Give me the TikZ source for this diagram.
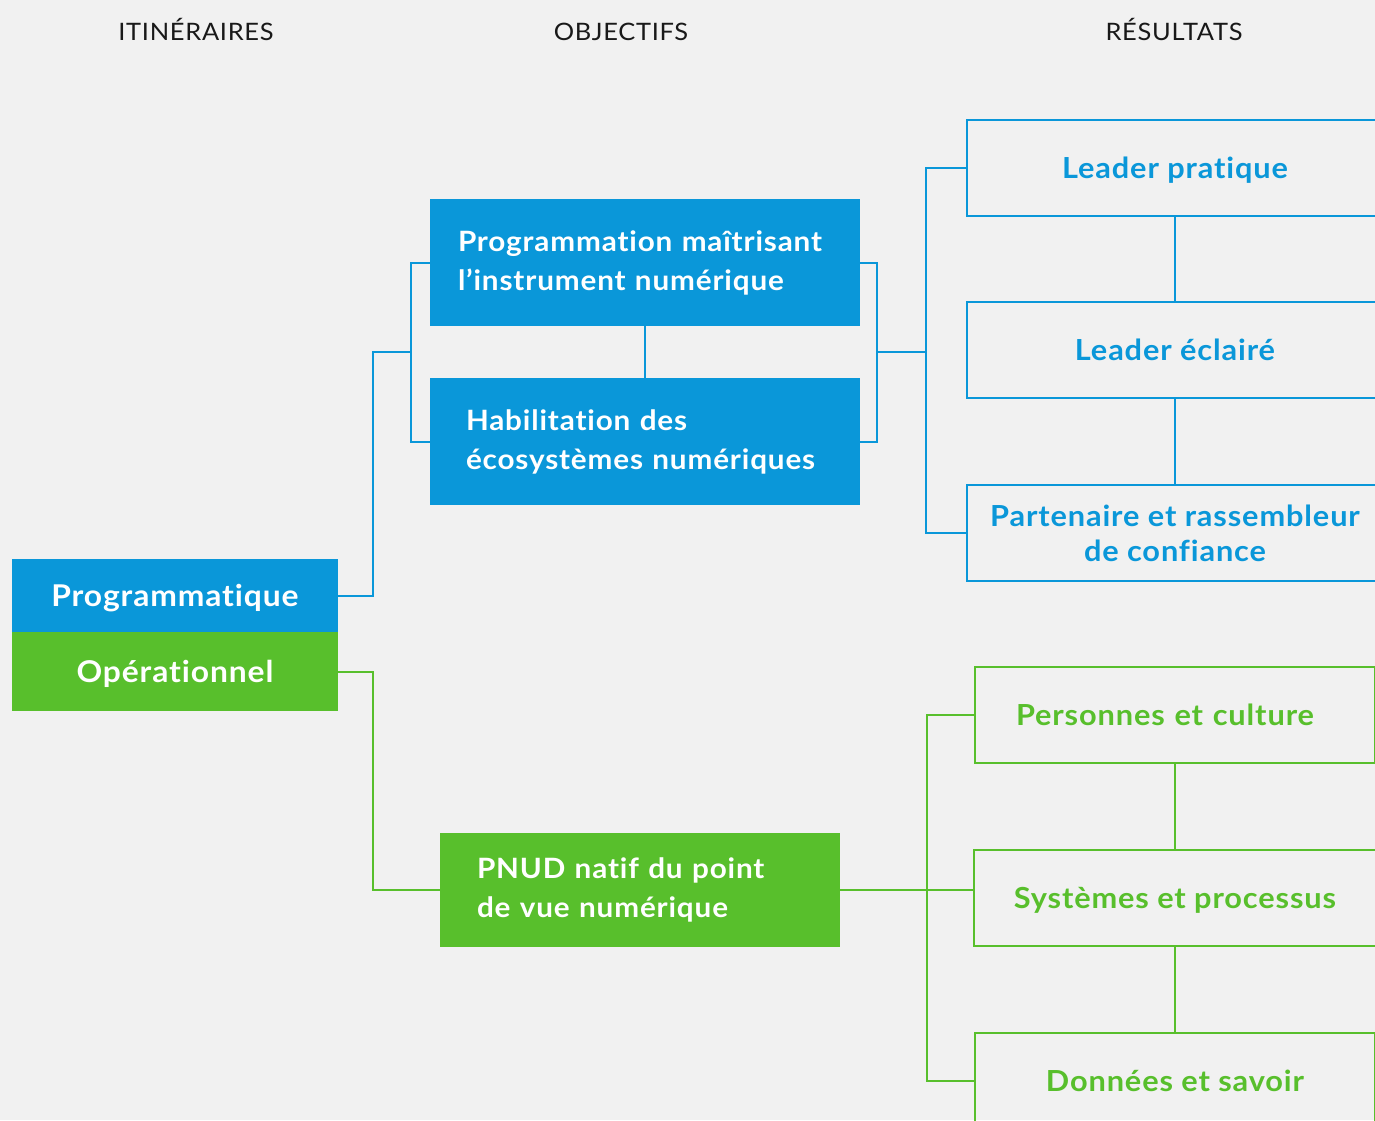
\documentclass[tikz,border=0pt]{standalone}
\usepackage{fontspec}
\setmainfont{Lato}[Ligatures=NoCommon]
\newfontfamily\boxfont{Lato}[Ligatures=NoCommon, LetterSpace=3, FakeStretch=1.06]
\usetikzlibrary{positioning,calc}
\definecolor{undpblue}{HTML}{0A97D9}
\definecolor{undpgreen}{HTML}{58BF2C}
\definecolor{paper}{HTML}{F1F1F1}
\tikzstyle{head} = [anchor=base, font=\boxfont\fontsize{24}{28}\selectfont, text=black!90]
\tikzstyle{block} = [rectangle, outer sep=0pt, align=center, text depth=0pt, font=\boxfont\bfseries\fontsize{28}{39}\selectfont]
\tikzstyle{lefttext} = [align=left, text depth={}, minimum height=127pt]
\tikzstyle{blueblock} = [block, fill=undpblue, text=white]
\tikzstyle{greenblock} = [block, fill=undpgreen, text=white]
\tikzstyle{result} = [block, line width=2pt, minimum height=96pt, font=\boxfont\bfseries\fontsize{29}{35}\selectfont]
\tikzstyle{blueout} = [result, draw=undpblue, text=undpblue, minimum width=416pt]
\tikzstyle{greenout} = [result, draw=undpgreen, text=undpgreen, minimum width=400pt]
\tikzstyle{blueline} = [draw=undpblue, line width=2pt]
\tikzstyle{greenline} = [draw=undpgreen, line width=2pt]

\begin{document}
\begin{tikzpicture}[x=1pt, y=-1pt, node distance=87pt]
\path[use as bounding box, fill=paper] (0,0) rectangle (1375,1120);
\clip (0,0) rectangle (1375,1120);

\node (itineraires) [head] at (196,40) {ITINÉRAIRES};
\node (objectifs) [head] at (621,40) {OBJECTIFS};
\node (resultats) [head] at (1174,40) {RÉSULTATS};

\node (prog) [blueblock, minimum width=326pt, minimum height=73pt, font=\boxfont\bfseries\fontsize{30}{36}\selectfont] at (175,595.5) {Programmatique};
\node (oper) [greenblock, minimum width=326pt, minimum height=79pt, font=\boxfont\bfseries\fontsize{30}{36}\selectfont, below=0pt of prog] {Opérationnel};

\node (maitrise) [blueblock, lefttext, text width=374pt, inner xsep=28pt] at (645,262.5) {Programmation maîtrisant\\l’instrument numérique};
\node (habilitation) [blueblock, lefttext, text width=358pt, inner xsep=36pt, below=52pt of maitrise] {Habilitation des\\écosystèmes numériques};
\node (pnud) [greenblock, lefttext, text width=326pt, inner xsep=37pt, minimum height=114pt] at (640,890) {PNUD natif du point\\de vue numérique};

\node (pratique) [blueout] at (1175,168) {Leader pratique};
\node (eclaire) [blueout, below=86pt of pratique] {Leader éclairé};
\node (partenaire) [blueout, below=of eclaire] {Partenaire et rassembleur\\de confiance};

\node (personnes) [greenout, align=left, text width=318pt, inner xsep=41pt] at (1175,715) {Personnes et culture};
\node (systemes) [greenout, minimum width=402pt, below=of personnes] {Systèmes et processus};
\node (donnees) [greenout, below=of systemes] {Données et savoir};

% programmatique
\coordinate (lj) at ($(maitrise.west)!0.5!(habilitation.west)+(-19,0)$);
\coordinate (rj) at ($(maitrise.east)!0.5!(habilitation.east)+(17,0)$);
\coordinate (rt) at ($(rj)+(49,0)$);
\draw [blueline] (maitrise.west) -- ++(-19,0) |- (habilitation.west);
\draw [blueline] (prog.east) -- ++(35,0) |- (lj);
\draw [blueline] (maitrise) -- (habilitation);
\draw [blueline] (maitrise.east) -- ++(17,0) |- (habilitation.east);
\draw [blueline] (rj) -- (rt);
\draw [blueline] (pratique.west) -| (rt) |- (partenaire.west);
\draw [blueline] (pratique) -- (eclaire);
\draw [blueline] (eclaire) -- (partenaire);

% operationnel
\coordinate (gt) at ($(pnud.east)+(87,0)$);
\draw [greenline] (oper.east) -- ++(35,0) |- (pnud.west);
\draw [greenline] (pnud.east) -- (pnud.east -| systemes.west);
\draw [greenline] (personnes.west) -| (gt) |- (donnees.west);
\draw [greenline] (personnes) -- (systemes);
\draw [greenline] (systemes) -- (donnees);
\end{tikzpicture}
\end{document}
